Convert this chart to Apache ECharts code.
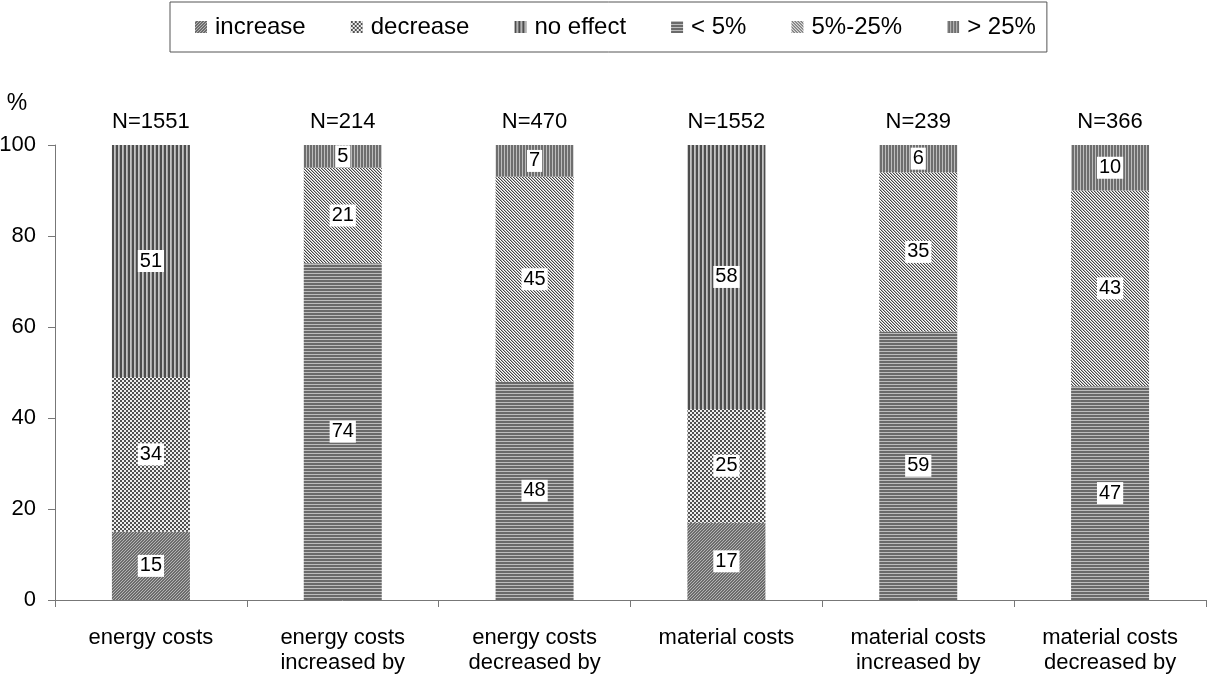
<!DOCTYPE html>
<html>
<head>
<meta charset="utf-8">
<script src="https://cdn.jsdelivr.net/npm/echarts@6/dist/echarts.min.js"></script>
<style>
html,body{margin:0;padding:0;background:#fff;}
#c{width:1208px;height:678px;}
</style>
</head>
<body>
<div id="c"></div>
<script>
var categories = ["energy costs", "energy costs\nincreased by", "energy costs\ndecreased by", "material costs", "material costs\nincreased by", "material costs\ndecreased by"];
var nLabels = ["N=1551", "N=214", "N=470", "N=1552", "N=239", "N=366"];
var seriesNames = ["increase", "decrease", "no effect", "< 5%", "5%-25%", "> 25%"];
var increase = [15, null, null, 17, null, null];
var decrease = [34, null, null, 25, null, null];
var noEffect = [51, null, null, 58, null, null];
var below5 = [null, 74, 48, null, 59, 47];
var from5to25 = [null, 21, 45, null, 35, 43];
var above25 = [null, 5, 7, null, 6, 10];
var yTicks = [0, 20, 40, 60, 80, 100];

function pattern(w, h, fn) {
  var cv = document.createElement('canvas');
  cv.width = w; cv.height = h;
  var ctx = cv.getContext('2d');
  for (var y = 0; y < h; y++) for (var x = 0; x < w; x++) {
    ctx.fillStyle = fn(x, y);
    ctx.fillRect(x, y, 1, 1);
  }
  return { image: cv, repeat: 'repeat' };
}
var pats = [
  pattern(3, 3, function (x, y) { return (x + y) % 3 === 0 ? '#b4b4b4' : '#6c6c6c'; }),
  pattern(4, 4, function (x, y) { return (((x >> 1) + (y >> 1)) & 1) ? '#eeeeee' : '#505050'; }),
  pattern(4, 1, function (x) { return ['#4d4d4d', '#4d4d4d', '#c4c4c4', '#a8a8a8'][x]; }),
  pattern(1, 3, function (x, y) { return y % 3 === 0 ? '#bdbdbd' : '#6a6a6a'; }),
  pattern(3, 3, function (x, y) { var k = (x - y + 30) % 3; return k === 0 ? '#444444' : (k === 1 ? '#b8b8b8' : '#ffffff'); }),
  pattern(3, 1, function (x) { return x % 3 === 0 ? '#bdbdbd' : '#6e6e6e'; })
];
var datas = [increase, decrease, noEffect, below5, from5to25, above25];

var series = datas.map(function (d, i) {
  return {
    name: seriesNames[i],
    type: 'bar',
    stack: 'total',
    barWidth: 78,
    data: d,
    itemStyle: { color: pats[i] },
    label: {
      show: true,
      position: 'inside',
      color: '#000',
      fontSize: 20,
      fontFamily: 'Liberation Sans, Arial, sans-serif',
      backgroundColor: '#fff',
      padding: [2, 2, 0, 2],
      formatter: function (p) { return p.value == null ? '' : String(p.value); }
    }
  };
});

var chart = echarts.init(document.getElementById('c'), null, { renderer: 'canvas' });
chart.setOption({
  animation: false,
  backgroundColor: '#fff',
  textStyle: { fontFamily: 'Liberation Sans, Arial, sans-serif' },
  legend: {
    data: seriesNames,
    top: 2,
    left: 170,
    icon: 'rect',
    itemWidth: 12,
    itemHeight: 12,
    itemGap: 45,
    padding: [13, 11, 13, 25],
    borderColor: '#555',
    borderWidth: 1,
    textStyle: { fontSize: 24, color: '#000', padding: [0, 0, 0, 3] }
  },
  grid: { left: 55, right: 2, top: 145, bottom: 78, containLabel: false, outerBoundsMode: 'none' },
  xAxis: [{
    type: 'category',
    data: categories,
    axisLine: { lineStyle: { color: '#777', width: 1 } },
    axisTick: { show: true, length: 7, lineStyle: { color: '#777' } },
    axisLabel: { color: '#000', fontSize: 22, lineHeight: 25, margin: 25, interval: 0 }
  }, {
    type: 'category',
    position: 'top',
    data: nLabels,
    axisLine: { show: false },
    axisTick: { show: false },
    axisLabel: { color: '#000', fontSize: 22, margin: 12, interval: 0 }
  }],
  yAxis: {
    type: 'value',
    min: yTicks[0],
    max: yTicks[yTicks.length - 1],
    interval: 20,
    name: '%',
    nameLocation: 'end',
    nameGap: 30,
    nameTextStyle: { color: '#000', fontSize: 23, align: 'center', padding: [0, 76, 0, 0] },
    axisLine: { show: true, lineStyle: { color: '#777' } },
    axisTick: { show: true, length: 7, lineStyle: { color: '#777' } },
    splitLine: { show: false },
    axisLabel: { color: '#000', fontSize: 22, margin: 19 }
  },
  series: series
});
</script>
</body>
</html>
